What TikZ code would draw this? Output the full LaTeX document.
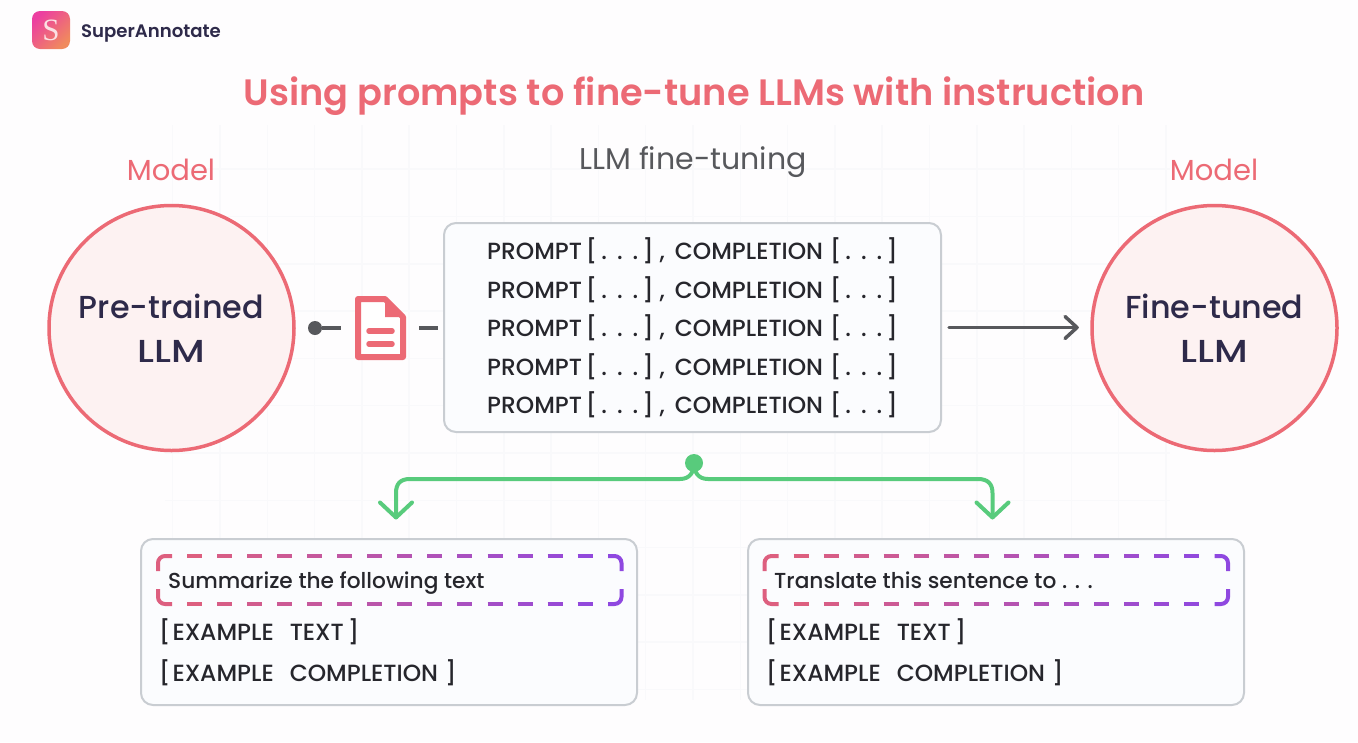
\documentclass[tikz,border=0pt]{standalone}
\usepackage{fontspec}
\setmainfont{Poppins}
\newfontfamily\mediumfont{Poppins Medium}
\newfontfamily\stretchfont[FakeStretch=1.2]{Poppins Medium}
\newfontfamily\semifont{Poppins SemiBold}
\newfontfamily\logofont{Liberation Serif}
\usetikzlibrary{arrows.meta}
\definecolor{rosered}{HTML}{EC6A75}
\definecolor{rosefill}{HTML}{FDF2F2}
\definecolor{inkdark}{HTML}{2E2A4A}
\definecolor{inktext}{HTML}{26262C}
\definecolor{linegray}{HTML}{57585C}
\definecolor{boxedge}{HTML}{C9CDD2}
\definecolor{boxfill}{HTML}{FBFCFE}
\definecolor{leafgreen}{HTML}{58CB7C}
\definecolor{dashpink}{HTML}{DD5F7F}
\definecolor{dashpurple}{HTML}{8F48E0}
\definecolor{gridline}{HTML}{F9F9FB}
\definecolor{pagetint}{HTML}{FEFDFE}
\definecolor{logopink}{HTML}{EC3FA0}
\definecolor{logoorange}{HTML}{F08A5D}
\tikzset{
  modelcircle/.style={circle,draw=rosered,fill=rosefill,line width=3.5pt,minimum size=245pt,inner sep=0pt,align=center,text=inkdark,font=\mediumfont\fontsize{31.8}{44}\selectfont},
  modellabel/.style={text=rosered,font=\fontsize{29}{34}\selectfont},
  panel/.style={draw=boxedge,fill=boxfill,line width=2pt,rounded corners=12pt},
  rowtext/.style={anchor=base west,inner sep=0pt,text=inktext,font=\mediumfont\fontsize{23.4}{26}\selectfont},
  tasktext/.style={anchor=base west,inner sep=0pt,text=inktext,font=\mediumfont\fontsize{21.7}{26}\selectfont},
  grayline/.style={draw=linegray,line width=3.5pt},
  greenline/.style={draw=leafgreen,line width=4pt,line cap=round,line join=round},
}
% bracket with three dots
\newcommand{\dotsgroup}{[\kern4pt.\kern10pt.\kern10pt.\kern4pt]}
\newcommand{\promptrow}{PROMPT\kern4pt\dotsgroup\kern6pt,\kern10pt COMPLETION\kern7pt\dotsgroup}
% one dashed frame, running pink to purple
\newcommand{\dashframe}[1]{
  \begin{scope}[xshift=#1pt,line width=4pt]
    \draw[dashpink,rounded corners=7pt] (172,556) -- (158,556) -- (158,571);
    \draw[dashpink,rounded corners=7pt] (172,604) -- (158,604) -- (158,589);
    \draw[dashpurple,rounded corners=7pt] (608,556) -- (621.5,556) -- (621.5,571);
    \draw[dashpurple,rounded corners=7pt] (608,604) -- (621.5,604) -- (621.5,589);
    \foreach \k in {0,...,13} {
      \pgfmathsetmacro{\xa}{187+30.05*\k}
      \pgfmathsetmacro{\mixp}{100-7.4*\k}
      \draw[dashpink!\mixp!dashpurple] (\xa,556) -- (\xa+15,556);
      \draw[dashpink!\mixp!dashpurple] (\xa,604) -- (\xa+15,604);
    }
  \end{scope}
}
\begin{document}
\begin{tikzpicture}[x=1pt,y=-1pt]
\useasboundingbox (0,0) rectangle (1358,742);
\fill[pagetint] (0,0) rectangle (1358,742);

% Faint grid
\foreach \k in {-11,...,10} {
  \draw[gridline,line width=1.5pt] (693+47.3*\k,125) -- (693+47.3*\k,700);
}
\foreach \k in {-6,...,5} {
  \draw[gridline,line width=1.5pt] (165,453+47.3*\k) -- (1170,453+47.3*\k);
}

% Logo
\shade[rounded corners=8pt,left color=logopink,right color=logoorange,shading angle=45] (32,11) rectangle (70,49);
\node[text=white!80!rosered,font=\logofont\fontsize{31}{31}\selectfont] (logomark) at (51,30) {S};
\node[anchor=base west,inner sep=0pt,text=inkdark,font=\semifont\fontsize{18.1}{22}\selectfont] (brand) at (81,37) {SuperAnnotate};

% Headings
\node[anchor=base,inner sep=0pt,text=rosered,font=\semifont\fontsize{36.7}{40}\selectfont] (headline) at (694,105) {Using prompts to fine-tune LLMs with instruction};
\node[modellabel,anchor=base,inner sep=0pt] (leftlabel) at (171,180) {Model};
\node[modellabel,anchor=base,inner sep=0pt] (rightlabel) at (1214,180) {Model};
\node[anchor=base,inner sep=0pt,text=linegray,font=\fontsize{30}{34}\selectfont] (tuninglabel) at (693,169) {LLM fine-tuning};

% Models
\node[modelcircle] (pretrained) at (171.5,328) {Pre-trained\\{\stretchfont LLM}};
\node[modelcircle] (finetuned) at (1214.5,328) {Fine-tuned\\{\stretchfont LLM}};

% Prompt panel
\node[panel,minimum width=497pt,minimum height=209pt] (prompts) at (692.5,327.5) {};
\foreach \row/\y in {a/259.5,b/298.5,c/336.5,d/375.5,e/413.5} {
  \node[rowtext] (row\row) at (487,\y) {\promptrow};
}

% Document icon
\draw[rosered,line width=6pt,line join=round,fill=white] (358,299) -- (385,299) -- (403,317) -- (403,357) -- (358,357) -- cycle;
\fill[rosered,line join=round] (385,299) -- (403,317) -- (385,317) -- cycle;
\draw[rosered,line width=5.5pt,line cap=round] (369,331) -- (392,331);
\draw[rosered,line width=5.5pt,line cap=round] (369,344) -- (392,344);
\coordinate (docleft) at (341,328);
\coordinate (docright) at (419,328);

% Gray links
\node[circle,fill=linegray,minimum size=14pt,inner sep=0pt] (startdot) at (315,328) {};
\draw[grayline] (startdot) -- (docleft);
\coordinate (panelleft) at (438,328);
\draw[grayline] (docright) -- (panelleft);
\coordinate (graytip) at (1077,327.5);
\draw[grayline,line cap=round,shorten <=7pt] (prompts.east) -- (graytip);
\draw[grayline,line cap=round,line join=round] ([shift={(-12,-11)}]graytip) -- (graytip) -- ([shift={(-12,11)}]graytip);

% Lower panels
\node[panel,minimum width=496pt,minimum height=166pt] (leftpanel) at (389,622) {};
\node[panel,minimum width=496pt,minimum height=166pt] (rightpanel) at (996,622) {};
\dashframe{0}
\dashframe{606.5}
\node[tasktext] (lefttask) at (168,588.5) {Summarize the following text};
\node[rowtext] (leftsample) at (159,640.5) {[\kern2pt EXAMPLE\kern16pt TEXT\kern4pt]};
\node[rowtext] (leftanswer) at (159,681.5) {[\kern2pt EXAMPLE\kern16pt COMPLETION\kern7pt]};
\node[tasktext] (righttask) at (774,588.5) {Translate this sentence to . . .};
\node[rowtext] (rightsample) at (766,640.5) {[\kern2pt EXAMPLE\kern16pt TEXT\kern4pt]};
\node[rowtext] (rightanswer) at (766,681.5) {[\kern2pt EXAMPLE\kern16pt COMPLETION\kern7pt]};

% Green branches
\node[circle,fill=leafgreen,minimum size=18pt,inner sep=0pt] (hub) at (694,463) {};
\coordinate (leftdrop) at (396,517.5);
\coordinate (rightdrop) at (992.5,517.5);
\draw[greenline] (hub.center) .. controls (694,472) and (690,479) .. (680,479) -- (410,479) .. controls (400,479) and (396,484) .. (396,493) -- (leftdrop);
\draw[greenline] (hub.center) .. controls (694,472) and (698,479) .. (708,479) -- (978,479) .. controls (988,479) and (992.5,484) .. (992.5,493) -- (rightdrop);
\draw[greenline] ([shift={(-16,-15)}]leftdrop) -- (leftdrop) -- ([shift={(16,-15)}]leftdrop);
\draw[greenline] ([shift={(-16,-15)}]rightdrop) -- (rightdrop) -- ([shift={(16,-15)}]rightdrop);
\end{tikzpicture}
\end{document}
